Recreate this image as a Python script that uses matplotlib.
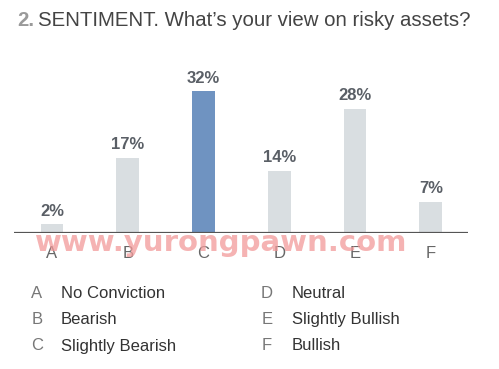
import matplotlib.pyplot as plt

plt.rcParams["font.family"] = ["Liberation Sans", "DejaVu Sans"]

letters = ["A", "B", "C", "D", "E", "F"]
values = [2, 17, 32, 14, 28, 7]
names = ["No Conviction", "Bearish", "Slightly Bearish", "Neutral", "Slightly Bullish", "Bullish"]
highlight = "C"

W, H = 499, 369
fig = plt.figure(figsize=(W / 100, H / 100), dpi=100)
fig.patch.set_facecolor("white")

# axes: baseline at y=233px, 4.44 px per %
ax = fig.add_axes([14 / W, (H - 233) / H, (468 - 14) / W, 155 / H])
ax.set_xlim(-0.5, 5.49)
ax.set_ylim(0, 35)
cols = ["#6f93c1" if l == highlight else "#d9dee1" for l in letters]
ax.bar(range(len(values)), values, width=0.30, color=cols, zorder=2)
ax.axhline(0, color="#555555", lw=1.6, zorder=3)
for i, v in enumerate(values):
    ax.annotate(f"{v}%", (i, v), xytext=(0, 4), textcoords="offset points",
                ha="center", va="bottom", fontsize=12, fontweight="bold", color="#5a5f66")
    ax.annotate(letters[i], (i, 0), xytext=(0, -15), textcoords="offset points",
                ha="center", va="center", fontsize=12, color="#666666")
ax.axis("off")

# title
fig.text(17 / W, 1 - 21 / H, "2.", fontsize=14.7, fontweight="bold", color="#9a9a9a",
         va="center", ha="left")
fig.text(38 / W, 1 - 21 / H, "SENTIMENT. What\u2019s your view on risky assets?",
         fontsize=14.7, color="#444444", va="center", ha="left")

# legend of answer letters
for i, (l, n) in enumerate(zip(letters, names)):
    col, row = divmod(i, 3)
    y = 1 - (293 + row * 26.5) / H
    lx = 37 if col == 0 else 267
    nx = 61 if col == 0 else 292
    fig.text(lx / W, y, l, fontsize=12, color="#777777", va="center", ha="center")
    fig.text(nx / W, y, n, fontsize=12, color="#333333", va="center", ha="left")

# watermark
fig.text(221 / W, 1 - 243 / H, "www.yurongpawn.com", fontsize=21, fontweight="bold",
         family="DejaVu Sans", color="#f29a9a", alpha=0.75, ha="center", va="center",
         zorder=10)

fig.savefig("out.png", dpi=100)
